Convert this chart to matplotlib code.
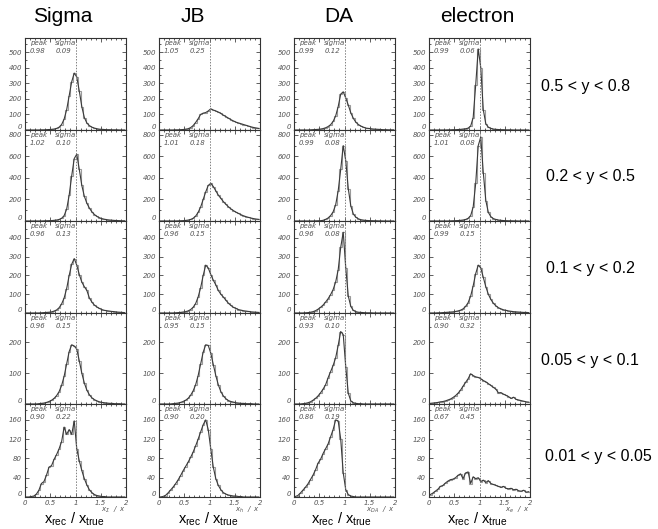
import numpy as np
import matplotlib.pyplot as plt

plt.rcParams["font.family"] = ["Liberation Sans", "DejaVu Sans"]
plt.rcParams["mathtext.default"] = "regular"

methods = ["Sigma", "JB", "DA", "electron"]
y_ranges = ["0.5 < y < 0.8", "0.2 < y < 0.5", "0.1 < y < 0.2",
            "0.05 < y < 0.1", "0.01 < y < 0.05"]
axis_names = [r"$x_{\Sigma}$  /  $x$", r"$x_{h}$  /  $x$",
              r"$x_{DA}$  /  $x$", r"$x_{e}$  /  $x$"]

# x_rec / x_true histograms, 40 bins of width 0.05 from 0 to 2
sigma_r1 = [0, 0, 0, 0, 0, 0, 1, 1, 2, 3, 4, 6, 10, 18, 35, 70, 130, 220, 310, 365,
            340, 250, 150, 80, 45, 28, 18, 12, 8, 5, 4, 3, 2, 2, 1, 1, 1, 0, 0, 0]
jb_r1 = [0, 0, 0, 0, 0, 0, 1, 1, 2, 3, 5, 8, 15, 28, 48, 72, 100, 108, 112, 122,
         136, 128, 122, 115, 106, 95, 86, 76, 66, 58, 50, 45, 40, 35, 30, 25, 20, 16, 13, 10]
da_r1 = [0, 0, 0, 0, 0, 0, 1, 2, 3, 4, 6, 9, 14, 22, 34, 55, 90, 150, 230, 245,
         205, 160, 110, 75, 50, 35, 25, 18, 12, 10, 8, 6, 5, 4, 3, 2, 2, 1, 1, 1]
el_r1 = [0, 0, 0, 0, 0, 0, 0, 1, 1, 2, 2, 3, 4, 6, 8, 12, 25, 80, 290, 520,
         400, 130, 40, 18, 10, 6, 4, 3, 2, 2, 1, 1, 1, 0, 0, 0, 0, 0, 0, 0]

sigma_r2 = [0, 0, 0, 0, 0, 0, 0, 1, 2, 3, 4, 6, 9, 14, 25, 50, 110, 240, 420, 580,
            620, 480, 330, 230, 165, 120, 85, 60, 42, 30, 22, 16, 12, 9, 7, 5, 4, 3, 2, 2]
jb_r2 = [0, 0, 0, 0, 0, 0, 0, 1, 2, 3, 5, 8, 14, 25, 45, 80, 130, 200, 270, 330,
         350, 320, 280, 240, 210, 180, 155, 132, 112, 96, 82, 70, 58, 48, 40, 33, 27, 22, 18, 15]
da_r2 = [0, 0, 0, 0, 0, 0, 0, 0, 1, 2, 3, 6, 15, 28, 50, 85, 150, 280, 480, 700,
         560, 300, 140, 65, 35, 20, 12, 8, 5, 4, 3, 2, 2, 1, 1, 0, 0, 0, 0, 0]
el_r2 = [0, 0, 0, 0, 0, 0, 0, 0, 1, 2, 3, 4, 6, 9, 14, 25, 50, 130, 350, 700,
         780, 450, 190, 80, 40, 22, 14, 9, 6, 4, 3, 2, 2, 1, 1, 0, 0, 0, 0, 0]

sigma_r3 = [0, 0, 0, 0, 0, 0, 1, 2, 3, 4, 6, 10, 16, 28, 48, 80, 130, 200, 260, 290,
            255, 205, 165, 140, 120, 80, 58, 42, 32, 24, 18, 14, 12, 10, 8, 7, 5, 4, 3, 2]
jb_r3 = [0, 0, 0, 0, 0, 0, 1, 2, 3, 5, 7, 11, 18, 30, 50, 85, 135, 200, 255, 240,
         205, 175, 150, 120, 100, 85, 68, 52, 40, 30, 24, 18, 15, 12, 10, 8, 6, 5, 4, 3]
da_r3 = [0, 0, 0, 0, 1, 2, 4, 7, 12, 20, 30, 42, 58, 76, 98, 125, 165, 230, 350, 430,
         240, 90, 35, 14, 7, 4, 3, 2, 1, 1, 1, 0, 0, 0, 0, 0, 0, 0, 0, 0]
el_r3 = [0, 0, 0, 1, 1, 2, 3, 4, 5, 6, 8, 11, 15, 22, 35, 55, 90, 145, 210, 255,
         240, 190, 140, 100, 72, 52, 38, 28, 22, 17, 14, 11, 9, 7, 6, 5, 4, 3, 3, 2]

sigma_r4 = [0, 0, 0, 0, 0, 1, 2, 3, 5, 8, 12, 18, 27, 40, 60, 90, 130, 170, 192, 188,
            178, 140, 100, 68, 45, 30, 20, 14, 10, 7, 5, 4, 3, 2, 2, 1, 1, 1, 0, 0]
jb_r4 = [0, 0, 0, 0, 0, 1, 2, 3, 5, 8, 12, 18, 28, 42, 62, 92, 130, 168, 192, 190,
         165, 128, 92, 62, 40, 26, 17, 11, 8, 6, 4, 3, 2, 2, 1, 1, 1, 0, 0, 0]
da_r4 = [0, 0, 0, 1, 2, 4, 7, 12, 18, 26, 36, 48, 62, 85, 105, 125, 150, 190, 235, 225,
         120, 35, 10, 4, 2, 1, 1, 0, 0, 0, 0, 0, 0, 0, 0, 0, 0, 0, 0, 0]
el_r4 = [2, 3, 4, 5, 7, 8, 10, 13, 16, 21, 27, 35, 45, 58, 70, 82, 98, 92, 88, 86,
         82, 76, 72, 66, 60, 54, 48, 36, 37, 32, 28, 24, 18, 22, 15, 13, 11, 9, 7, 6]

sigma_r5 = [0, 0, 1, 2, 6, 14, 28, 32, 45, 62, 65, 78, 88, 100, 115, 145, 130, 140, 130, 158,
            100, 75, 55, 38, 25, 15, 9, 5, 3, 2, 1, 1, 0, 0, 0, 0, 0, 0, 0, 0]
jb_r5 = [0, 1, 3, 8, 14, 20, 27, 35, 44, 54, 63, 72, 82, 93, 106, 120, 135, 150, 160, 140,
         100, 62, 38, 24, 15, 9, 6, 4, 3, 2, 2, 1, 1, 0, 0, 0, 0, 0, 0, 0]
da_r5 = [1, 3, 8, 14, 20, 27, 36, 45, 56, 70, 78, 90, 100, 110, 125, 140, 160, 158, 120, 50,
         15, 5, 2, 1, 0, 0, 0, 0, 0, 0, 0, 0, 0, 0, 0, 0, 0, 0, 0, 0]
el_r5 = [5, 8, 12, 16, 22, 24, 29, 33, 36, 37, 40, 45, 48, 38, 50, 52, 28, 42, 38, 40,
         32, 35, 30, 34, 28, 26, 24, 22, 20, 22, 18, 17, 18, 15, 16, 13, 12, 14, 10, 11]

hists = [[sigma_r1, jb_r1, da_r1, el_r1],
         [sigma_r2, jb_r2, da_r2, el_r2],
         [sigma_r3, jb_r3, da_r3, el_r3],
         [sigma_r4, jb_r4, da_r4, el_r4],
         [sigma_r5, jb_r5, da_r5, el_r5]]

peaks = [["0.98", "1.05", "0.99", "0.99"],
         ["1.02", "1.01", "0.99", "1.01"],
         ["0.96", "0.96", "0.96", "0.99"],
         ["0.96", "0.95", "0.93", "0.90"],
         ["0.90", "0.90", "0.86", "0.67"]]
sigmas = [["0.09", "0.25", "0.12", "0.06"],
          ["0.10", "0.18", "0.08", "0.08"],
          ["0.13", "0.15", "0.08", "0.15"],
          ["0.15", "0.15", "0.10", "0.32"],
          ["0.22", "0.20", "0.19", "0.45"]]

y_max = [590, 845, 490, 295, 193]
y_step = [100, 200, 100, 100, 40]
y_top_tick = [500, 800, 400, 200, 160]

edges = np.linspace(0, 2, 41)
centers = 0.5 * (edges[:-1] + edges[1:])

W, H = 658, 529
col_left = [25, 159, 294, 429]
panel_w = 101
row_edges = [38, 130, 221, 313, 404, 497]

fig = plt.figure(figsize=(W / 100, H / 100), dpi=100)
small = dict(fontsize=5, fontstyle="italic", color="#555555", family="DejaVu Sans")

for r in range(5):
    top, bot = row_edges[r], row_edges[r + 1]
    h_px = bot - top
    for c in range(4):
        ax = fig.add_axes([col_left[c] / W, 1 - bot / H, panel_w / W, h_px / H])
        counts = np.array(hists[r][c], dtype=float)
        ax.stairs(counts, edges, color="#9a9a9a", lw=0.8)
        ax.plot(centers, counts, color="#3a3a3a", lw=0.8)
        ax.axvline(1.0, color="#808080", ls=(0, (1.5, 1.5)), lw=0.7)
        ax.set_xlim(0, 2)
        ax.set_ylim(0, y_max[r])

        yt = np.arange(0, y_top_tick[r] + 1, y_step[r])
        ax.set_yticks(yt, labels=[str(v) for v in yt], **small)
        # keep the zero label sitting on the axis line
        ax.get_yticklabels()[0].set_verticalalignment("bottom")
        ax.set_yticks(np.arange(0, y_max[r], y_step[r] / 2), minor=True)
        xt = [0, 0.5, 1, 1.5, 2]
        if r == 4:
            ax.set_xticks(xt, labels=["0", "0.5", "1", "1.5", "2"], **small)
            ax.text(1.0, -7.5 / h_px, axis_names[c], transform=ax.transAxes,
                    ha="right", va="top", **small)
        else:
            ax.set_xticks(xt, labels=[])
        ax.set_xticks(np.arange(0, 2.01, 0.1), minor=True)
        ax.tick_params(which="both", direction="in", top=True, right=True,
                       color="#444444", width=0.6, pad=2)
        ax.tick_params(which="major", length=3)
        ax.tick_params(which="minor", length=1.5)
        for sp in ax.spines.values():
            sp.set_color("#333333")
            sp.set_linewidth(0.8)

        y1 = 1 - 2 / h_px
        y2 = 1 - 10 / h_px
        ax.text(0.05, y1, "peak", transform=ax.transAxes, va="top", **small)
        ax.text(0.30, y1, "sigma", transform=ax.transAxes, va="top", **small)
        ax.text(0.05, y2, peaks[r][c], transform=ax.transAxes, va="top", **small)
        ax.text(0.30, y2, sigmas[r][c], transform=ax.transAxes, va="top", **small)

# column headings and bottom labels
title_x = [63, 193, 339, 477]
xlabel_x = [74, 208, 341, 477]
for c in range(4):
    fig.text(title_x[c] / W, 1 - 17 / H, methods[c], fontsize=15,
             ha="center", va="center")
    fig.text(xlabel_x[c] / W, 1 - 519.5 / H, r"$x_{rec}$ / $x_{true}$",
             fontsize=10.5, ha="center", va="center")

# y-range labels on the right
label_x = [541, 546, 546, 541, 545]
label_y = [87, 177, 268, 360, 456]
for r in range(5):
    fig.text(label_x[r] / W, 1 - label_y[r] / H, y_ranges[r], fontsize=11.5,
             ha="left", va="center")

fig.savefig("out.png", dpi=100)
